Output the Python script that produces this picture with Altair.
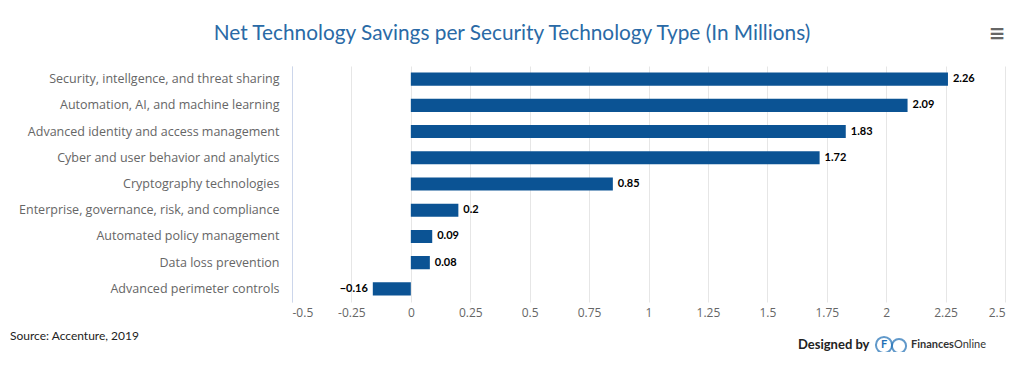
import altair as alt
import pandas as pd

categories = [
    "Security, intellgence, and threat sharing",
    "Automation, AI, and machine learning",
    "Advanced identity and access management",
    "Cyber and user behavior and analytics",
    "Cryptography technologies",
    "Enterprise, governance, risk, and compliance",
    "Automated policy management",
    "Data loss prevention",
    "Advanced perimeter controls",
]
values = [2.26, 2.09, 1.83, 1.72, 0.85, 0.2, 0.09, 0.08, -0.16]
tick_values = [-0.5, -0.25, 0, 0.25, 0.5, 0.75, 1, 1.25, 1.5, 1.75, 2, 2.25, 2.5]

df = pd.DataFrame({"category": categories, "value": values})

FONT = "Lato"
AXFONT = "Open Sans"
BAR = "#0b5394"
W, H = 713, 236

x_enc = alt.X("value:Q",
              scale=alt.Scale(domain=[-0.5, 2.5], nice=False, zero=False),
              axis=alt.Axis(values=tick_values, labelExpr="'' + datum.value",
                            title=None, grid=True, gridColor="#e6e6e6",
                            domain=False, ticks=False, labelPadding=5,
                            labelColor="#666666", labelFont=AXFONT, labelFontSize=12))
y_enc = alt.Y("category:N", sort=categories,
              scale=alt.Scale(paddingInner=0.5, paddingOuter=0.25),
              axis=alt.Axis(title=None, domainColor="#ccd6eb", ticks=False,
                            labelPadding=13, labelColor="#666666", labelFont=AXFONT,
                            labelFontSize=12.5, labelLimit=320))

base = alt.Chart(df)
bars = base.mark_bar(color=BAR).encode(x=x_enc, y=y_enc, x2=alt.datum(0))

pos = base.transform_filter("datum.value >= 0").mark_text(
    align="left", dx=5, font=FONT, fontSize=11, fontWeight="bold", color="#000000"
).encode(x="value:Q", y=alt.Y("category:N", sort=categories),
         text=alt.Text("value:Q", format="~g"))
neg = base.transform_filter("datum.value < 0").mark_text(
    align="right", dx=-5, font=FONT, fontSize=11, fontWeight="bold", color="#000000"
).encode(x="value:Q", y=alt.Y("category:N", sort=categories),
         text=alt.Text("value:Q", format="~g"))

def txt(s, x, y, **kw):
    return alt.Chart(pd.DataFrame({"t": [s]})).mark_text(**kw).encode(
        text="t:N", x=alt.value(x), y=alt.value(y))

title = txt("Net Technology Savings per Security Technology Type (In Millions)", 220, -32,
            align="center", baseline="middle", font=FONT, fontSize=20.8,
            color="#2a6aa6")
menu = txt("≡", 705, -32, align="center", baseline="middle", font="DejaVu Sans",
           fontSize=20, fontWeight="bold", color="#666666")
source = txt("Source: Accenture, 2019", -282, 270, align="left", baseline="middle",
             font=FONT, fontSize=12, color="#222222")
designed = txt("Designed by", 506, 279, align="left", baseline="middle",
               font=FONT, fontSize=13, fontWeight="bold", color="#222222")
logo_f = txt("F", 592, 279, align="center", baseline="middle", font=FONT,
             fontSize=11, fontWeight="bold", color="#1f6fb5")
logo_c = alt.Chart(pd.DataFrame({"t": [1]})).mark_point(
    shape="circle", size=260, filled=False, color="#1f6fb5", strokeWidth=2
).encode(x=alt.value(592), y=alt.value(279))
logo_c2 = alt.Chart(pd.DataFrame({"t": [1]})).mark_point(
    shape="circle", size=200, filled=False, color="#1f6fb5", strokeWidth=2
).encode(x=alt.value(607), y=alt.value(280))
fo1 = txt("Finances", 619, 279, align="left", baseline="middle", font=FONT,
          fontSize=11, fontWeight="bold", color="#333333")
fo2 = txt("Online", 662, 279, align="left", baseline="middle", font=FONT,
          fontSize=11, color="#333333")

chart = alt.layer(bars, pos, neg, title, menu, source, designed, logo_c, logo_c2,
                  logo_f, fo1, fo2).properties(
    width=W, height=H,
    autosize=alt.AutoSizeParams(type="none"),
    padding={"left": 284, "top": 58, "right": 11, "bottom": 50},
).configure_view(stroke=None)

chart.save("out.html", embed_options={"renderer": "svg", "actions": False})
